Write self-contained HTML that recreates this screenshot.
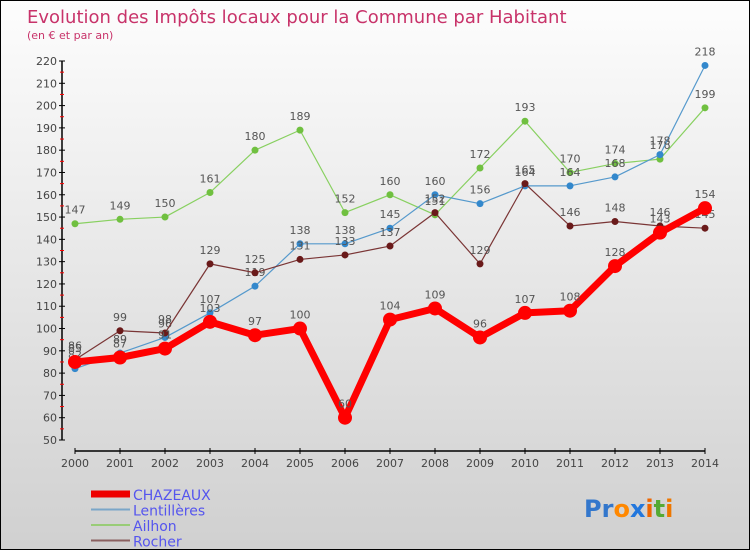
<!DOCTYPE html>
<html><head><meta charset="utf-8"><style>
html,body{margin:0;padding:0}
body{width:750px;height:550px;overflow:hidden;font-family:"DejaVu Sans","Liberation Sans",sans-serif}
#wrap{position:absolute;left:0;top:0;width:748px;height:548px;border:1px solid #000;background:linear-gradient(#fdfdfd,#d0d0d0)}
</style></head><body>
<div id="wrap">
<svg id="chart" width="748" height="548" style="position:absolute;left:0;top:0"></svg>
</div>
<script>
const years=[2000,2001,2002,2003,2004,2005,2006,2007,2008,2009,2010,2011,2012,2013,2014];
const chazeaux=[85,87,91,103,97,100,60,104,109,96,107,108,128,143,154];
const lentilleres=[82,89,96,107,119,138,138,145,160,156,164,164,168,178,218];
const ailhon=[147,149,150,161,180,189,152,160,151,172,193,170,174,176,199];
const rocher=[86,99,98,129,125,131,133,137,152,129,165,146,148,146,145];
const yTicks=[50,60,70,80,90,100,110,120,130,140,150,160,170,180,190,200,210,220];
const NS="http://www.w3.org/2000/svg";
const svg=document.getElementById('chart');
const X=i=>74+i*45;
const Y=v=>439-(v-50)*(379/170);
function el(t,a,p){const e=document.createElementNS(NS,t);for(const k in a)e.setAttribute(k,a[k]);(p||svg).appendChild(e);return e;}
function txt(x,y,s,a,p){const e=el('text',Object.assign({x:x,y:y},a),p);e.textContent=s;return e;}
// title
let t=txt(26,22,'Evolution des Impôts locaux pour la Commune par Habitant',{fill:'#c8336a','font-size':'18'});

t=txt(26,38,'(en € et par an)',{fill:'#c8336a','font-size':'11'});

// axes
const ya=el('g',{});
el('line',{x1:61,y1:Y(220),x2:61,y2:Y(50),stroke:'#000','stroke-width':1.5},ya);
yTicks.forEach(v=>{el('line',{x1:58,x2:64,y1:Y(v),y2:Y(v),stroke:'#000'},ya);
 if(v<220)el('line',{x1:59,x2:63,y1:Y(v+5),y2:Y(v+5),stroke:'#f00'},ya);
 txt(56,Y(v)+4,String(v),{'text-anchor':'end','font-size':'11',fill:'#444'},ya);});
const xa=el('g',{});
el('line',{x1:X(0),y1:450,x2:X(14),y2:450,stroke:'#000','stroke-width':1.5},xa);
years.forEach((yr,i)=>{el('line',{x1:X(i),x2:X(i),y1:447,y2:453,stroke:'#000'},xa);
 txt(X(i),466,String(yr),{'text-anchor':'middle','font-size':'11',fill:'#444'},xa);});
function series(vals,color,w,r,name,dot){
 const g=el('g',{});
 el('polyline',{points:vals.map((v,i)=>X(i)+','+Y(v)).join(' '),fill:'none',stroke:color,'stroke-width':w,'stroke-linejoin':'round'},g);
 vals.forEach((v,i)=>{const c=el('circle',{cx:X(i),cy:Y(v),r:r,fill:dot||color},g);
  
  txt(X(i),Y(v)-10,String(v),{'text-anchor':'middle','font-size':'11',fill:'#555'},g);});
}
series(ailhon,'#88d060',1.2,3.5,'series-ailhon','#70c040');
series(lentilleres,'#5599cc',1.2,3.5,'series-lentilleres','#3388cc');
series(rocher,'#7a3535',1.2,3.5,'series-rocher','#6a1a1a');
series(chazeaux,'#ff0000',7,7,'series-chazeaux');
// legend
const lg=[['CHAZEAUX','#ee0000',7],['Lentillères','#7aa6c8',2],['Ailhon','#99cc77',2],['Rocher','#8a6060',2]];
lg.forEach((l,i)=>{const g=el('g',{});
 const y=493+i*15.5;el('line',{x1:90,x2:129,y1:y,y2:y,stroke:l[1],'stroke-width':l[2]},g);
 txt(132,y+6,l[0],{'font-size':'14',fill:'#5555ee'},g);});
// logo
const lo=txt(583,516,'',{'font-size':'24','font-weight':'bold'});
[['Pr','#3377cc'],['o','#ff8800'],['x','#2277dd'],['i','#ee6600'],['t','#55aa33'],['i','#ee7700']].forEach(p=>{const s=document.createElementNS(NS,'tspan');s.setAttribute('fill',p[1]);s.textContent=p[0];lo.appendChild(s);});
</script>
</body></html>
